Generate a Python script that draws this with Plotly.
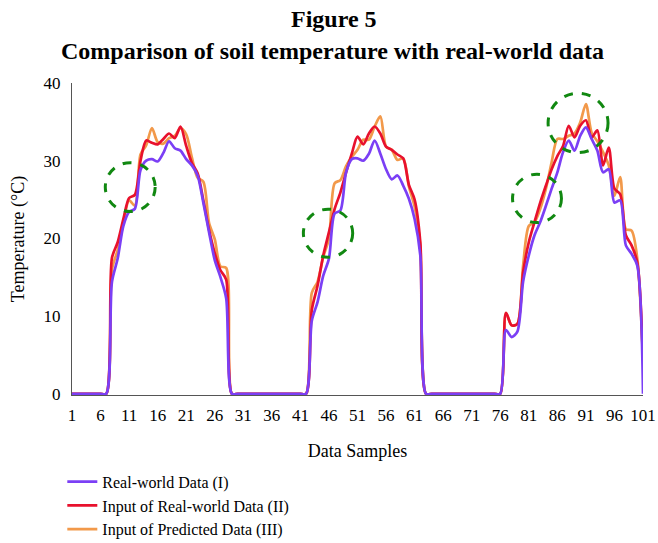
import plotly.graph_objects as go

# ---- data ----
samples = list(range(1, 102))

real_world = (
    [0] * 7 +
    [14.4, 17.4, 21.6, 23.4, 23.8, 28.8, 30.0, 30.2, 29.9, 31.0, 32.5, 31.6, 31.3, 30.2, 29.4, 28.1,
     24.6, 20.8, 17.2, 15.0, 12.3] +
    [0] * 14 +
    [9.4, 11.8, 15.2, 17.4, 23.2, 23.6, 28.5, 30.2, 30.3, 30.0, 30.9, 32.6, 30.9, 28.9, 27.6, 28.1,
     26.8, 25.1, 22.5, 17.8] +
    [0] * 14 +
    [8.2, 7.3, 8.0, 14.4, 17.8, 20.4, 22.1, 24.2, 26.4, 28.5, 31.1, 32.6, 31.3, 33.2, 34.3, 32.8,
     31.3, 28.5, 28.9, 24.6, 24.9, 19.1, 18.0, 16.5, 0]
)

input_real = (
    [0] * 7 +
    [17.5, 19.5, 22.5, 25.2, 25.6, 30.0, 32.6, 32.3, 32.1, 32.8, 33.5, 32.9, 34.4, 31.9, 29.7, 28.4,
     24.9, 21.1, 18.1, 15.9, 14.7] +
    [0] * 14 +
    [10.8, 13.9, 17.8, 20.8, 23.8, 25.9, 28.5, 30.9, 33.1, 32.1, 33.5, 34.4, 33.5, 31.8, 31.4, 30.8,
     30.3, 26.9, 25.0, 19.5] +
    [0] * 14 +
    [10.4, 8.8, 9.0, 15.6, 19.5, 22.1, 24.6, 26.8, 28.9, 30.6, 31.9, 34.5, 33.0, 34.5, 35.2, 33.0,
     33.9, 29.4, 31.7, 26.4, 25.7, 20.4, 19.1, 16.9, 4.3]
)

input_predicted = (
    [0] * 7 +
    [16.0, 18.5, 22.0, 24.9, 24.2, 30.8, 32.0, 34.2, 32.4, 32.2, 32.9, 33.2, 34.2, 33.4, 30.4, 27.8,
     27.3, 22.0, 19.9, 16.4, 16.2] +
    [0] * 14 +
    [13.0, 14.4, 17.6, 20.0, 27.1, 27.5, 29.3, 30.5, 31.4, 32.7, 32.7, 34.4, 35.7, 31.8, 31.4, 30.1,
     30.3, 26.7, 24.1, 19.0] +
    [0] * 14 +
    [10.4, 8.8, 9.0, 16.5, 21.6, 22.1, 23.8, 26.4, 29.8, 32.8, 32.8, 33.2, 33.5, 34.9, 37.3, 33.6,
     32.5, 31.1, 29.4, 25.5, 27.9, 21.2, 21.0, 17.4, 4.3]
)

x_tick_vals = list(range(1, 102, 5))
y_tick_vals = [0, 10, 20, 30, 40]

# highlighted regions (dashed circles) as [x0, x1, y0, y1] in data units
highlights = [
    [6.83, 15.57, 23.45, 29.75],
    [41.52, 50.16, 17.58, 23.76],
    [78.15, 86.72, 22.03, 28.26],
    [84.38, 94.88, 31.04, 38.67],
]

names = ["Real-world Data (I)", "Input of Real-world Data (II)", "Input of Predicted Data (III)"]
colors = ["#7b3ff5", "#e8112d", "#f2994a"]

W, H = 658, 543
L, R, T, B = 71.7, 658 - 643.3, 83, 543 - 395.24
plot_w = W - L - R
plot_h = H - T - B


def px_to_paper_x(px):
    return (px - L) / plot_w


def px_to_paper_y(py):
    return (H - B - py) / plot_h


fig = go.Figure()
# draw predicted first, real-world on top; legend reversed to keep I, II, III order
for series, name, color in [(input_predicted, names[2], colors[2]),
                            (input_real, names[1], colors[1]),
                            (real_world, names[0], colors[0])]:
    fig.add_trace(go.Scatter(
        x=samples, y=series, name=name, mode="lines",
        line=dict(color=color, width=2.7, shape="spline", smoothing=0.8),
    ))

for x0, x1, y0, y1 in highlights:
    fig.add_shape(type="circle", xref="x", yref="y", x0=x0, x1=x1, y0=y0, y1=y1,
                  line=dict(color="#118811", width=3, dash="dash"), layer="above")

font_family = "Liberation Serif"

fig.add_annotation(text="<b>Figure 5</b>", xref="paper", yref="paper",
                   x=px_to_paper_x(334), y=px_to_paper_y(19), xanchor="center", yanchor="middle",
                   showarrow=False, font=dict(family=font_family, size=24, color="black"))
fig.add_annotation(text="<b>Comparison of soil temperature with real-world data</b>", xref="paper", yref="paper",
                   x=px_to_paper_x(332), y=px_to_paper_y(51), xanchor="center", yanchor="middle",
                   showarrow=False, font=dict(family=font_family, size=24, color="black"))

fig.update_layout(
    width=W, height=H,
    margin=dict(l=L, r=R, t=T, b=B, autoexpand=False),
    plot_bgcolor="white", paper_bgcolor="white",
    font=dict(family=font_family, color="black", size=17),
    legend=dict(x=px_to_paper_x(62), xanchor="left", y=px_to_paper_y(465), yanchor="top",
                traceorder="reversed",
                font=dict(family=font_family, size=16, color="black"), bgcolor="rgba(0,0,0,0)"),
)
fig.update_xaxes(range=[1, 101], tickvals=x_tick_vals, ticktext=[str(v) for v in x_tick_vals],
                 showline=True, linecolor="#555555", linewidth=1.3, showgrid=False, zeroline=False,
                 automargin=False,
                 ticks="", ticklabelstandoff=4, tickfont=dict(size=17),
                 title=dict(text="Data Samples", font=dict(size=18), standoff=20))
fig.update_yaxes(range=[-0.16, 40], tickvals=y_tick_vals,
                 showline=True, linecolor="#555555", linewidth=1.3, showgrid=False, zeroline=False,
                 automargin=False,
                 ticks="", ticklabelstandoff=7, tickfont=dict(size=17),
                 title=dict(text="Temperature (°C)", font=dict(size=18), standoff=14))

# remove the default page margin so the figure fills the window exactly
fig.write_html(
    "out.html",
    config={"displayModeBar": False},
    post_script="document.body.style.margin='0';document.body.style.overflow='hidden';",
)
